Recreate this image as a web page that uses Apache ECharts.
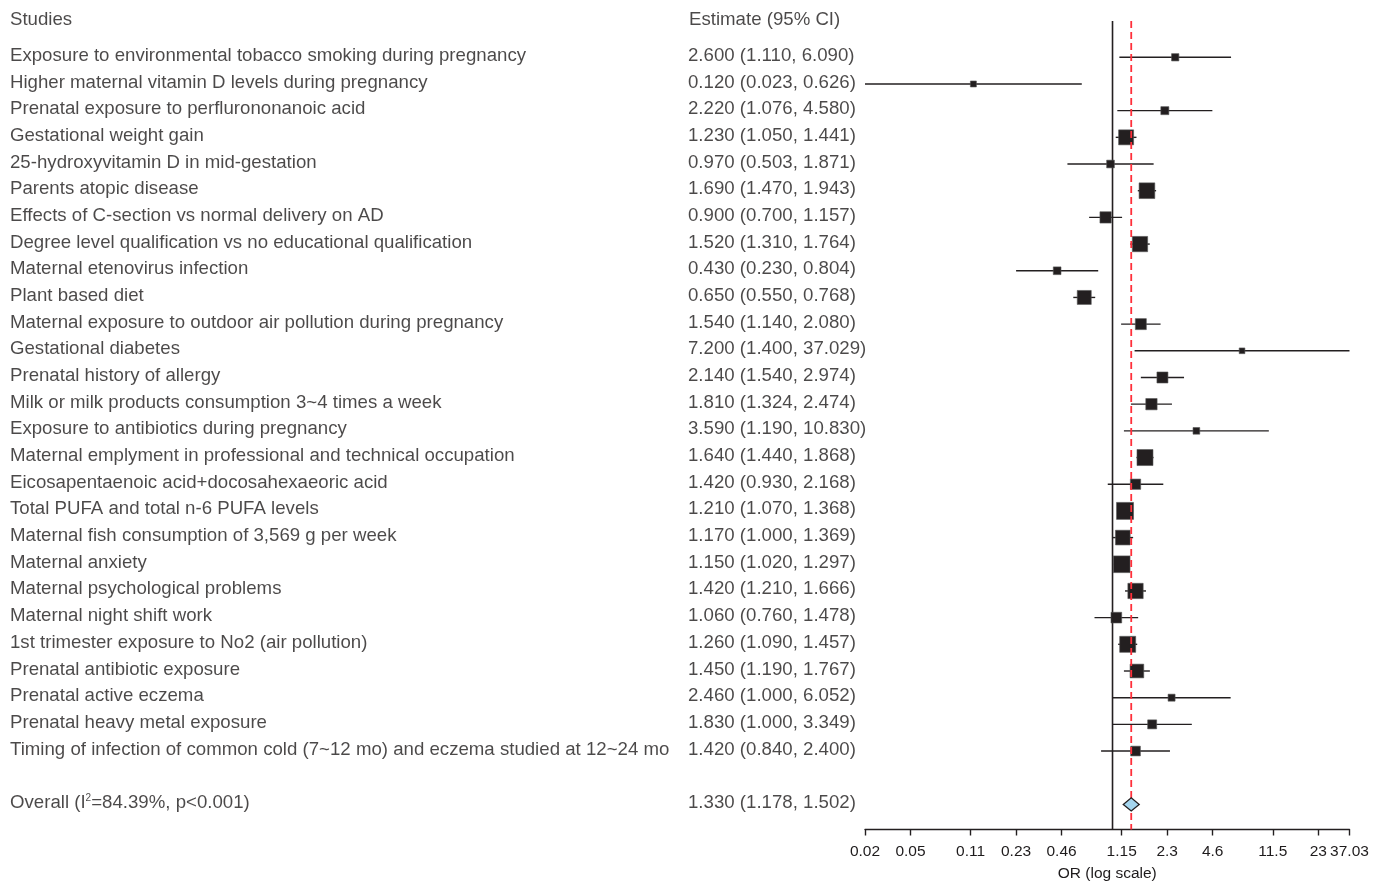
<!DOCTYPE html>
<html>
<head>
<meta charset="utf-8">
<script src="https://cdn.jsdelivr.net/npm/echarts@6/dist/echarts.min.js"></script>
<style>
html,body{margin:0;padding:0;background:#fff;}
#chart{width:1386px;height:882px;}
</style>
</head>
<body>
<div id="chart"></div>
<script>
// ---- data ----
const studies = [
  'Exposure to environmental tobacco smoking during pregnancy',
  'Higher maternal vitamin D levels during pregnancy',
  'Prenatal exposure to perflurononanoic acid',
  'Gestational weight gain',
  '25-hydroxyvitamin D in mid-gestation',
  'Parents atopic disease',
  'Effects of C-section vs normal delivery on AD',
  'Degree level qualification vs no educational qualification',
  'Maternal etenovirus infection',
  'Plant based diet',
  'Maternal exposure to outdoor air pollution during pregnancy',
  'Gestational diabetes',
  'Prenatal history of allergy',
  'Milk or milk products consumption 3~4 times a week',
  'Exposure to antibiotics during pregnancy',
  'Maternal emplyment in professional and technical occupation',
  'Eicosapentaenoic acid+docosahexaeoric acid',
  'Total PUFA and total n-6 PUFA levels',
  'Maternal fish consumption of 3,569 g per week',
  'Maternal anxiety',
  'Maternal psychological problems',
  'Maternal night shift work',
  '1st trimester exposure to No2 (air pollution)',
  'Prenatal antibiotic exposure',
  'Prenatal active eczema',
  'Prenatal heavy metal exposure',
  'Timing of infection of common cold (7~12 mo) and eczema studied at 12~24 mo'
];
const estimates = [2.600,0.120,2.220,1.230,0.970,1.690,0.900,1.520,0.430,0.650,1.540,7.200,2.140,1.810,3.590,1.640,1.420,1.210,1.170,1.150,1.420,1.060,1.260,1.450,2.460,1.830,1.420];
const lowers    = [1.110,0.023,1.076,1.050,0.503,1.470,0.700,1.310,0.230,0.550,1.140,1.400,1.540,1.324,1.190,1.440,0.930,1.070,1.000,1.020,1.210,0.760,1.090,1.190,1.000,1.000,0.840];
const uppers    = [6.090,0.626,4.580,1.441,1.871,1.943,1.157,1.764,0.804,0.768,2.080,37.029,2.974,2.474,10.830,1.868,2.168,1.368,1.369,1.297,1.666,1.478,1.457,1.767,6.052,3.349,2.400];
// relative study weights (%)
const weights   = [1.36,0.92,1.64,5.75,1.52,6.30,3.27,5.99,1.52,5.01,3.09,0.83,3.09,3.27,1.15,6.55,2.71,7.39,5.53,7.13,5.99,2.93,6.55,4.80,1.25,2.07,2.41];

const overallLabel = 'Overall (I{sup|2}=84.39%, p<0.001)';
const overallEst = [1.330];
const overallLow = [1.178];
const overallHigh = [1.502];

const nullValue = [1];
const tickValues = [0.023,0.046,0.115,0.23,0.46,1.15,2.3,4.6,11.5,23,37.029];
const tickLabels = ['0.02','0.05','0.11','0.23','0.46','1.15','2.3','4.6','11.5','23','37.03'];

const headerStudies = 'Studies';
const headerEstimate = 'Estimate (95% CI)';
const axisTitle = 'OR (log scale)';

// ---- build ----
const L = Math.log;
const FONT = '"Liberation Sans", Arial, Helvetica, sans-serif';
const TXT = '#1e1b1c';
const fmt = v => v.toFixed(3);
const overallRow = studies.length + 1;   // one blank row gap
const textShift = 0.06;
const yTop = -1.36, yMin = -1.6, yMax = 28.94;

const forestData = studies.map((s, i) => [L(estimates[i]), i, L(lowers[i]), L(uppers[i]), Math.sqrt(weights[i] * 39.1)]);
const diamondData = [[L(overallEst[0]), overallRow, L(overallLow[0]), L(overallHigh[0])]];

const labelData = [];
labelData.push({value: [10, -1.42], label: {formatter: headerStudies}});
labelData.push({value: [689, -1.42], label: {formatter: headerEstimate}});
studies.forEach((s, i) => {
  labelData.push({value: [10, i - textShift], label: {formatter: s}});
  labelData.push({value: [688, i - textShift], label: {formatter: fmt(estimates[i]) + ' (' + fmt(lowers[i]) + ', ' + fmt(uppers[i]) + ')'}});
});
labelData.push({value: [10, overallRow - textShift], label: {formatter: overallLabel}});
labelData.push({value: [688, overallRow - textShift], label: {formatter: fmt(overallEst[0]) + ' (' + fmt(overallLow[0]) + ', ' + fmt(overallHigh[0]) + ')'}});

const logTicks = tickValues.map(L);

const chart = echarts.init(document.getElementById('chart'), null, {renderer: 'canvas'});
chart.setOption({
  animation: false,
  backgroundColor: '#fff',
  textStyle: {fontFamily: FONT},
  grid: [
    {left: 865, right: 36.5, top: 14.6, bottom: 52.5, containLabel: false, outerBoundsMode: 'none'},
    {left: 0, width: 865, top: 14.6, bottom: 52.5, containLabel: false, outerBoundsMode: 'none'}
  ],
  xAxis: [
    {
      gridIndex: 0, type: 'value',
      min: L(tickValues[0]), max: L(tickValues[tickValues.length - 1]),
      position: 'bottom',
      splitLine: {show: false},
      axisLine: {show: true, onZero: false, lineStyle: {color: '#231f20', width: 1.4}},
      axisTick: {show: true, customValues: logTicks, length: 6, lineStyle: {color: '#231f20', width: 1.4}},
      axisLabel: {
        show: true, customValues: logTicks, margin: 14,
        color: TXT, fontSize: 15.5, fontFamily: FONT,
        formatter: function (v) {
          let best = 0, d = Infinity;
          logTicks.forEach((t, k) => { const dd = Math.abs(t - v); if (dd < d) { d = dd; best = k; } });
          return tickLabels[best];
        }
      },
      name: axisTitle, nameLocation: 'middle', nameGap: 36,
      nameTextStyle: {color: TXT, fontSize: 15.5, fontFamily: FONT}
    },
    {gridIndex: 1, type: 'value', min: 0, max: 865, show: false}
  ],
  yAxis: [
    {gridIndex: 0, type: 'value', inverse: true, min: yMin, max: yMax, show: false},
    {gridIndex: 1, type: 'value', inverse: true, min: yMin, max: yMax, show: false}
  ],
  series: [
    {
      type: 'line', xAxisIndex: 0, yAxisIndex: 0, silent: true,
      symbol: 'none', data: [[L(nullValue[0]), yTop], [L(nullValue[0]), yMax]],
      lineStyle: {color: '#231f20', width: 1.6}, z: 1
    },
    {
      type: 'line', xAxisIndex: 0, yAxisIndex: 0, silent: true,
      symbol: 'none', data: [[L(overallEst[0]), yTop], [L(overallEst[0]), yMax]],
      lineStyle: {color: '#ff2f3a', width: 1.8, type: [7, 4]}, z: 4
    },
    {
      type: 'custom', xAxisIndex: 0, yAxisIndex: 0, silent: true, z: 3,
      encode: {x: 0, y: 1},
      data: forestData,
      renderItem: function (params, api) {
        const y = api.value(1);
        const c = api.coord([api.value(0), y]);
        const lo = api.coord([api.value(2), y]);
        const hi = api.coord([api.value(3), y]);
        const s = api.value(4);
        return {
          type: 'group',
          children: [
            {type: 'line', shape: {x1: lo[0], y1: lo[1], x2: hi[0], y2: hi[1]},
             style: {stroke: '#231f20', lineWidth: 1.4}},
            {type: 'rect', shape: {x: c[0] - s / 2, y: c[1] - s / 2, width: s, height: s},
             style: {fill: '#231f20', stroke: '#555', lineWidth: 0.6}}
          ]
        };
      }
    },
    {
      type: 'custom', xAxisIndex: 0, yAxisIndex: 0, silent: true, z: 5,
      encode: {x: 0, y: 1},
      data: diamondData,
      renderItem: function (params, api) {
        const y = api.value(1);
        const c = api.coord([api.value(0), y]);
        const lo = api.coord([api.value(2), y]);
        const hi = api.coord([api.value(3), y]);
        const h = 6.6;
        return {
          type: 'polygon',
          shape: {points: [[lo[0], c[1]], [c[0], c[1] - h], [hi[0], c[1]], [c[0], c[1] + h]]},
          style: {fill: '#a4d5ee', stroke: '#231f20', lineWidth: 1.3}
        };
      }
    },
    {
      type: 'scatter', xAxisIndex: 1, yAxisIndex: 1, silent: true, clip: false,
      symbolSize: 0,
      data: labelData,
      label: {
        show: true, position: 'right', distance: 0,
        color: TXT, fontSize: 18.65, fontFamily: FONT, lineHeight: 20,
        rich: {
          sup: {fontSize: 10, verticalAlign: 'top', lineHeight: 10, color: TXT, fontFamily: FONT}
        }
      }
    }
  ]
});
</script>
</body>
</html>
